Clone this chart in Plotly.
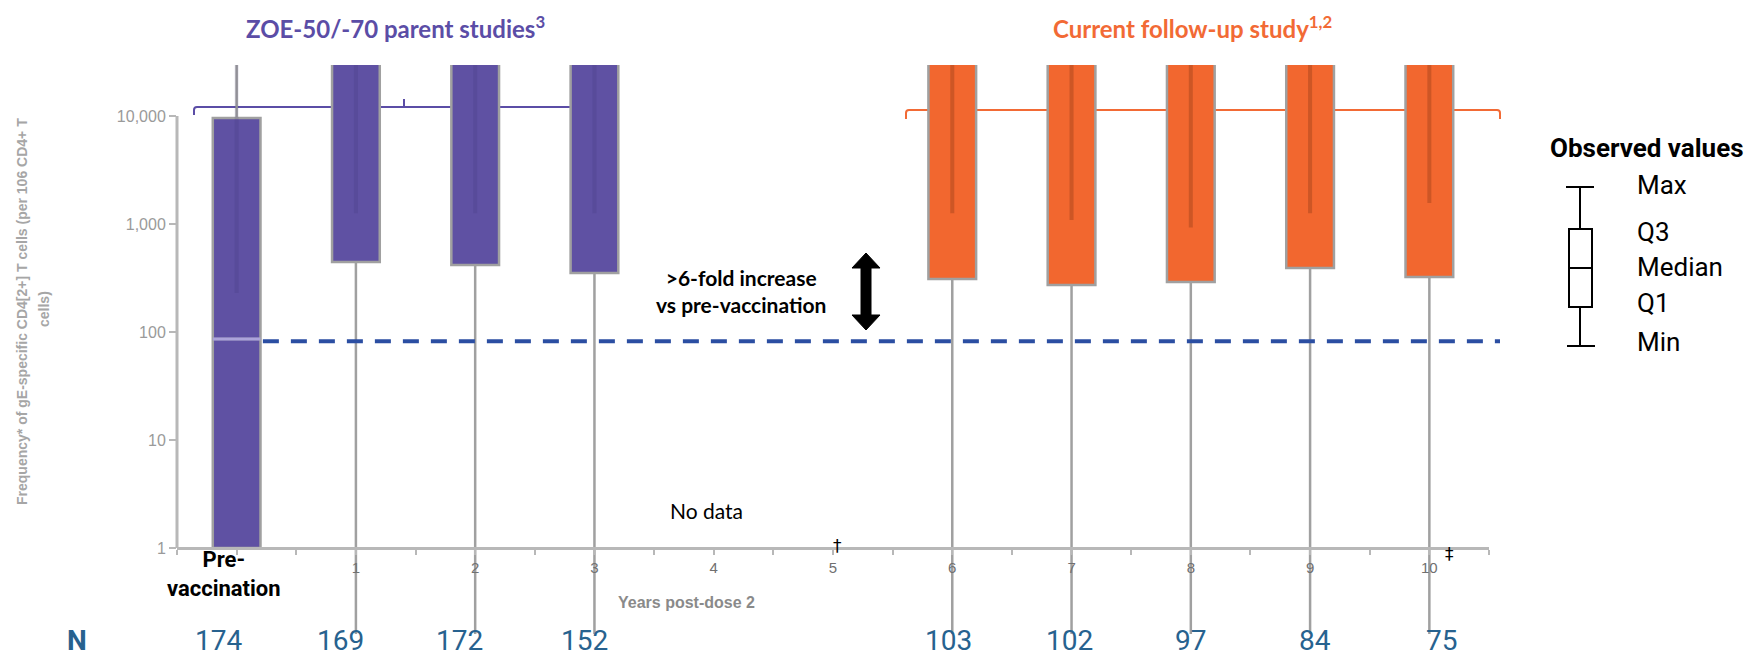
import plotly.graph_objects as go

# ---- data -------------------------------------------------------------
# Years post-dose 2 (0 = pre-vaccination)
parent_years = [0, 1, 2, 3]
followup_years = [6, 7, 8, 9, 10]

# gE-specific CD4[2+] T-cell frequency per 10^6 CD4+ T cells (box statistics)
# values above the plotted window are beyond the top of the axis
parent_min = [1, 0.16, 0.16, 0.16]
parent_q1 = [1, 445, 417, 352]
parent_median = [86, 40000, 40000, 40000]
parent_q3 = [9600, 60000, 60000, 60000]
parent_max = [100000, 100000, 100000, 100000]

followup_min = [0.16, 0.16, 0.16, 0.16, 0.16]
followup_q1 = [310, 272, 290, 391, 323]
followup_median = [40000, 40000, 40000, 40000, 40000]
followup_q3 = [60000, 60000, 60000, 60000, 60000]
followup_max = [100000, 100000, 100000, 100000, 100000]

# lower end of the darker core line running up through each box
parent_core_low = [230, 1260, 1260, 1260]
followup_core_low = [1260, 1090, 930, 1260, 1560]

# pre-vaccination reference level (dashed line)
prevacc_reference = 82

# participants per time point
n_years = [0, 1, 2, 3, 6, 7, 8, 9, 10]
n_values = [174, 169, 172, 152, 103, 102, 97, 84, 75]
n_nudge = [-0.15, -0.13, -0.13, -0.08, -0.03, -0.02, 0.0, 0.04, 0.1]

year_tick_values = [1, 2, 3, 4, 5, 6, 7, 8, 9, 10]
year_tick_labels = ["1", "2", "3", "4", "5", "6", "7", "8", "9", "10"]
y_tick_values = [1, 10, 100, 1000, 10000]
y_tick_labels = ["1", "10", "100", "1,000", "10,000"]

# ---- layout geometry ---------------------------------------------------
W, H = 1754, 659
L, R, T, B = 177, 1489, 65, 640
PW, PH = R - L, B - T
X_LO, X_HI = -0.5, 10.5
Y_LO, Y_HI = -0.852, 4.472
BOX_W = 0.4

PURPLE = "#5F51A3"
PURPLE_T = "#5B4DA6"
ORANGE = "#F2672F"
ORANGE_T = "#F26A35"
WHISKER = "#a0a0a0"
AXIS = "#b8b8b8"
N_BLUE = "#27628F"


def px(x):
    return (x - L) / PW


def py(y):
    return (B - y) / PH


fig = go.Figure()


def add_boxes(years, lo, q1, med, q3, hi, fill):
    fig.add_trace(go.Box(
        x=years, q1=q1, median=med, q3=q3, lowerfence=lo, upperfence=hi,
        orientation="v", fillcolor=fill,
        line=dict(color=WHISKER, width=2.5),
        width=BOX_W, whiskerwidth=0, boxpoints=False,
        hoverinfo="skip", showlegend=False,
    ))


add_boxes(parent_years, parent_min, parent_q1, parent_median, parent_q3, parent_max, PURPLE)
add_boxes(followup_years, followup_min, followup_q1, followup_median, followup_q3, followup_max, ORANGE)


def core_lines(years, low, hi, color):
    xs, ys = [], []
    for x, a, b in zip(years, low, hi):
        xs += [x, x, None]
        ys += [a, b, None]
    fig.add_trace(go.Scatter(x=xs, y=ys, mode="lines",
                             line=dict(color=color, width=4),
                             hoverinfo="skip", showlegend=False))


core_lines(parent_years, parent_core_low, parent_max, "rgba(40,30,90,0.12)")
core_lines(followup_years, followup_core_low, followup_max, "rgba(120,45,15,0.3)")

# light median line on the pre-vaccination box
fig.add_trace(go.Scatter(
    x=[parent_years[0] - BOX_W / 2, parent_years[0] + BOX_W / 2],
    y=[parent_median[0], parent_median[0]], mode="lines",
    line=dict(color="#aca3da", width=3), hoverinfo="skip", showlegend=False))

shapes = []

# y-axis line from 1 to 10,000
shapes.append(dict(type="line", xref="paper", yref="y", x0=0, x1=0,
                   y0=y_tick_values[0], y1=y_tick_values[-1],
                   line=dict(color=AXIS, width=3), layer="below"))

# dashed pre-vaccination reference
shapes.append(dict(type="line", xref="paper", yref="y",
                   x0=(parent_years[0] + BOX_W / 2 + 0.02 - X_LO) / (X_HI - X_LO), x1=px(1500),
                   y0=prevacc_reference, y1=prevacc_reference,
                   line=dict(color="#2B4EA2", width=4, dash="16px,12px"), layer="above"))


def bracket(x0, x1, y, hook_l, hook_r, tick, color):
    r = 3
    p = f"M {px(x0)},{py(y + hook_l)} L {px(x0)},{py(y + r)} Q {px(x0)},{py(y)} {px(x0 + r)},{py(y)} "
    if tick is not None:
        p += f"L {px(tick)},{py(y)} L {px(tick)},{py(y - 8)} M {px(tick)},{py(y)} "
    p += f"L {px(x1 - r)},{py(y)} Q {px(x1)},{py(y)} {px(x1)},{py(y + r)} L {px(x1)},{py(y + hook_r)}"
    return dict(type="path", xref="paper", yref="paper", path=p,
                line=dict(color=color, width=2), layer="below")


shapes.append(bracket(194, 614, 107, 8, 8, 404, PURPLE_T))
shapes.append(bracket(906, 1500, 110, 9, 9, None, ORANGE_T))

# double-headed arrow
ax_c, a_top, a_bot = 866, 253, 330
pts = [(ax_c, a_top), (ax_c + 14, a_top + 15), (ax_c + 5, a_top + 15), (ax_c + 5, a_bot - 15),
       (ax_c + 14, a_bot - 15), (ax_c, a_bot), (ax_c - 14, a_bot - 15), (ax_c - 5, a_bot - 15),
       (ax_c - 5, a_top + 15), (ax_c - 14, a_top + 15)]
shapes.append(dict(type="path", xref="paper", yref="paper",
                   path="M " + " L ".join(f"{px(a)},{py(b)}" for a, b in pts) + " Z",
                   fillcolor="black", line=dict(color="black", width=1)))

# box-plot key
KEY = dict(color="black", width=2)
kx = 1580
shapes += [
    dict(type="line", xref="paper", yref="paper", x0=px(kx - 14), x1=px(kx + 14), y0=py(187), y1=py(187), line=KEY),
    dict(type="line", xref="paper", yref="paper", x0=px(kx), x1=px(kx), y0=py(187), y1=py(229), line=KEY),
    dict(type="rect", xref="paper", yref="paper", x0=px(kx - 11), x1=px(kx + 12), y0=py(229), y1=py(307), line=KEY),
    dict(type="line", xref="paper", yref="paper", x0=px(kx - 11), x1=px(kx + 12), y0=py(268), y1=py(268), line=KEY),
    dict(type="line", xref="paper", yref="paper", x0=px(kx), x1=px(kx), y0=py(307), y1=py(346), line=KEY),
    dict(type="line", xref="paper", yref="paper", x0=px(kx - 13), x1=px(kx + 15), y0=py(346), y1=py(346), line=KEY),
]

ann = []


def text(x, y, s, size, color="black", family="Roboto", xanchor="center", xref="paper",
         yanchor="middle", **kw):
    ann.append(dict(x=px(x) if xref == "paper" else x, y=py(y), xref=xref, yref="paper",
                    text=s, showarrow=False, xanchor=xanchor, yanchor=yanchor,
                    font=dict(size=size, color=color, family=family), **kw))


text(395, 27, "<b>ZOE-50/-70 parent studies<sup>3</sup></b>", 24, PURPLE_T, "Lato")
text(1192, 27, "<b>Current follow-up study<sup>1,2</sup></b>", 24, ORANGE_T, "Lato")
text(741, 291, "<b>&gt;6-fold increase<br>vs pre-vaccination</b>", 21, "black", "Lato")
text(706, 510, "No data", 21, "black", "Lato")
text(837, 546, "†", 17, "black", "DejaVu Sans")
text(1449, 554, "‡", 17, "black", "DejaVu Sans")
text(224, 574, "<b>Pre-<br>vaccination</b>", 22, "black", "Roboto")
text(686, 602, "<b>Years post-dose 2</b>", 16, "#8a8a8a", "Arial")

# y-axis title (two rotated lines)
text(22, 312, "<b>Frequency* of gE-specific CD4[2+] T cells (per 106 CD4+ T</b>", 14, "#a6a6a6", "Arial", textangle=-90)
text(44, 309, "<b>cells)</b>", 14, "#a6a6a6", "Arial", textangle=-90)

# N row, anchored on the bottom edge of the page
text(77, 659, "<b>N</b>", 28, N_BLUE, "Roboto", yanchor="bottom")
for yr, n, dx in zip(n_years, n_values, n_nudge):
    text(yr + dx, 659, str(n), 28, N_BLUE, "Roboto", xref="x", yanchor="bottom")

# key labels
text(1647, 148, "<b>Observed values</b>", 26, "black", "Roboto")
for lab, yy in zip(["Max", "Q3", "Median", "Q1", "Min"], [185, 232, 267, 303, 342]):
    text(1635, yy, lab, 26, "black", "Roboto", xanchor="left")

fig.update_layout(
    width=W, height=H,
    margin=dict(l=L, r=W - R, t=T, b=H - B, pad=0),
    paper_bgcolor="white", plot_bgcolor="white",
    boxmode="overlay", showlegend=False,
    shapes=shapes, annotations=ann,
    xaxis=dict(range=[X_LO, X_HI], anchor="free", position=py(548),
               showline=True, linecolor=AXIS, linewidth=3,
               tickmode="array", tickvals=year_tick_values, ticktext=year_tick_labels,
               ticks="outside", ticklen=5, tickwidth=2, tickcolor=AXIS,
               minor=dict(tick0=X_LO, dtick=0.5, ticks="outside", ticklen=5,
                          tickwidth=2, tickcolor=AXIS, showgrid=False),
               tickfont=dict(family="Arial", size=15, color="#707070"),
               showgrid=False, zeroline=False),
    yaxis=dict(type="log", range=[Y_LO, Y_HI],
               tickvals=y_tick_values, ticktext=y_tick_labels,
               ticks="outside", ticklen=7, tickwidth=2, tickcolor=AXIS,
               tickfont=dict(family="Arial", size=16, color="#9a9a9a"),
               showline=False, showgrid=False, zeroline=False),
)

fig.write_html("out.html")
